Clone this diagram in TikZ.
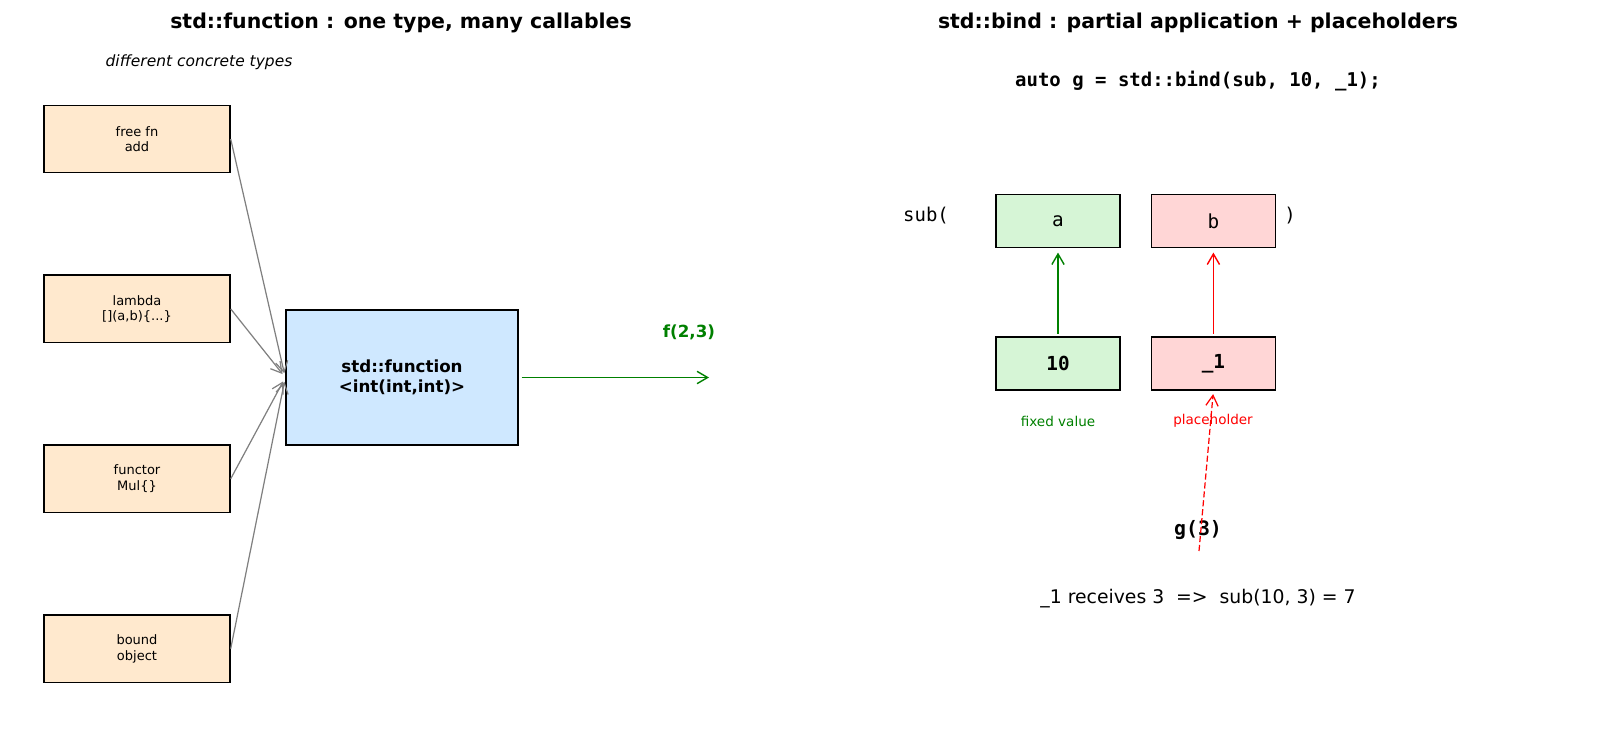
\documentclass[tikz,border=0pt]{standalone}
\usepackage{fontspec}
\setmainfont{DejaVu Sans}
\setmonofont{DejaVu Sans Mono}
\usetikzlibrary{positioning,arrows.meta}
\definecolor{cbOrange}{RGB}{255,233,206}
\definecolor{cbBlue}{RGB}{207,232,255}
\definecolor{fixGreen}{RGB}{214,245,214}
\definecolor{holdPink}{RGB}{255,214,214}
\definecolor{fnGreen}{RGB}{0,128,0}
\definecolor{fnRed}{RGB}{255,0,0}

\begin{document}
\begin{tikzpicture}[
    node distance=2.02cm,
    >={Straight Barb[length=6pt,width=7pt]},
    callable node/.style={rectangle, draw=black, line width=0.8pt, minimum width=3.72cm, minimum height=1.35cm, fill=cbOrange, align=center, font=\fontsize{7.4}{8.8}\selectfont},
    wrapper node/.style={rectangle, draw=black, line width=0.8pt, minimum width=4.64cm, minimum height=2.7cm, fill=cbBlue, align=center, font=\bfseries\fontsize{9.5}{11}\selectfont},
    param node/.style={rectangle, draw=black, line width=0.8pt, minimum width=2.48cm, minimum height=1.06cm, font=\ttfamily\fontsize{11}{13}\selectfont},
    value node/.style={param node, font=\ttfamily\bfseries\fontsize{11}{13}\selectfont},
    title text/.style={font=\bfseries\fontsize{11.65}{13}\selectfont},
    code text/.style={font=\ttfamily\fontsize{10.8}{12}\selectfont},
    small note/.style={font=\fontsize{7.7}{9}\selectfont},
    feed arrow/.style={->, draw=gray, line width=0.7pt, shorten >=2.5pt}
]
  \useasboundingbox (0,0) rectangle (32,-14.58);

  \node[title text] (titleL) at (8.02,-0.45) {std::function : one type, many callables};
  \node[font=\itshape\fontsize{8.8}{10}\selectfont] (kinds) at (3.98,-1.24) {different concrete types};

  \node[callable node] (freefn) at (2.74,-2.78) {free fn\\add};
  \node[callable node] (lambda) [below=of freefn] {lambda\\{[]}(a,b)\{...\}};
  \node[callable node] (functor) [below=of lambda] {functor\\Mul\{\}};
  \node[callable node] (bound) [below=of functor] {bound\\object};

  \node[wrapper node] (stdfn) at (8.04,-7.55) {std::function\\<int(int,int)>};
  \coordinate (callout) at (14.18,-7.55);
  \node[font=\bfseries\fontsize{9.5}{11}\selectfont, text=fnGreen] (call) at (13.78,-6.64) {f(2,3)};

  \draw[feed arrow] (freefn.east) -- (stdfn.west);
  \draw[feed arrow] (lambda.east) -- (stdfn.west);
  \draw[feed arrow] (functor.east) -- (stdfn.west);
  \draw[feed arrow] (bound.east) -- (stdfn.west);
  \draw[->, draw=fnGreen, line width=0.8pt, shorten <=1.7pt] (stdfn.east) -- (callout);

  \node[title text] (titleR) at (23.96,-0.45) {std::bind : partial application + placeholders};
  \node[font=\ttfamily\bfseries\fontsize{10.8}{12}\selectfont] (code) at (23.96,-1.63) {auto g = std::bind(sub, 10, \_1);};

  \node[param node, fill=fixGreen] (pa) at (21.16,-4.42) {a};
  \node[param node, fill=holdPink] (pb) [right=0.6cm of pa] {b};
  \node[code text] (subopen) at (18.52,-4.31) {sub(};
  \node[code text] (subclose) at (25.8,-4.31) {)};
  \node[value node, fill=fixGreen] (ten) [below=1.76cm of pa] {10};
  \node[value node, fill=holdPink] (holder) [below=1.76cm of pb] {\_1};
  \node[small note, text=fnGreen] (fixnote) at (21.16,-8.42) {fixed value};
  \node[small note, text=fnRed] (holdnote) at (24.26,-8.42) {placeholder};

  \draw[->, draw=fnGreen, line width=0.8pt, shorten <=1.5pt, shorten >=2.5pt] (ten) -- (pa);
  \draw[->, draw=fnRed, line width=0.8pt, shorten <=1.5pt, shorten >=2.5pt] (holder) -- (pb);

  \node[font=\ttfamily\bfseries\fontsize{11.3}{13}\selectfont] (gcall) at (23.96,-10.61) {g(3)};
  \coordinate (gstart) at (23.98,-11.02);
  \draw[->, draw=fnRed, dashed, dash pattern=on 3.5pt off 1.6pt, line width=0.7pt, shorten >=2pt] (gstart) -- (holder.south);
  \node[font=\fontsize{10.7}{12}\selectfont] (result) at (23.96,-11.98) {\_1 receives 3\ \ =>\ \ sub(10, 3) = 7};
\end{tikzpicture}
\end{document}
